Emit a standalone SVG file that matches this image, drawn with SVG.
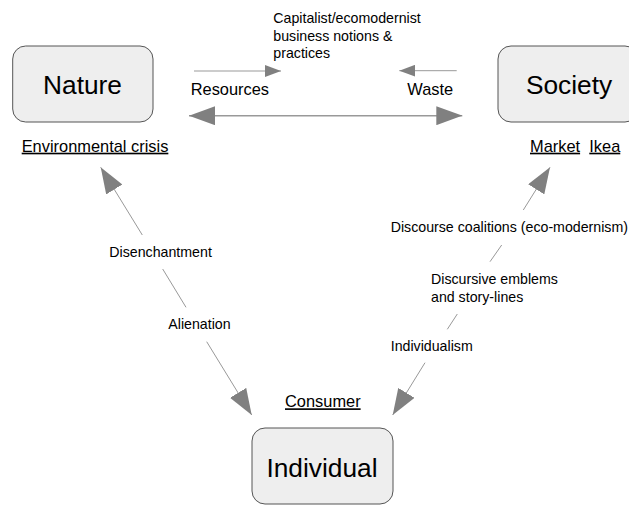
<svg xmlns="http://www.w3.org/2000/svg" width="629" height="505" viewBox="0 0 629 505">
<style>
.box{fill:#eeeeee;stroke:#555555;stroke-width:1}
.title{font-family:"Liberation Sans",Arial,sans-serif;font-size:26.3px;fill:#000;text-anchor:middle}
.lab{font-family:"Liberation Sans",Arial,sans-serif;font-size:16.4px;fill:#000}
.ul{text-decoration:underline}
.sm{font-family:"Liberation Sans",Arial,sans-serif;font-size:14.2px;fill:#000}
.ln{stroke:#999999;stroke-width:1;fill:none}
.lnb{stroke:#999999;stroke-width:1.6;fill:none}
</style>
<defs>
<marker id="big" viewBox="0 0 26 19" refX="26" refY="9.5" markerWidth="26" markerHeight="19" markerUnits="userSpaceOnUse" orient="auto-start-reverse">
<path d="M0,0 L26,9.5 L0,19 z" fill="#808080"/>
</marker>
<marker id="small" viewBox="0 0 16 12" refX="16" refY="6" markerWidth="16" markerHeight="12" markerUnits="userSpaceOnUse" orient="auto-start-reverse">
<path d="M0,0 L16,6 L0,12 z" fill="#808080"/>
</marker>
</defs>
<rect width="629" height="505" fill="#ffffff"/>
<g id="connectors">
<line class="ln" x1="194" y1="71" x2="281" y2="71" marker-end="url(#small)"/>
<line class="ln" x1="456.7" y1="70.7" x2="399.3" y2="70.7" marker-end="url(#small)"/>
<line class="lnb" x1="189" y1="115.7" x2="462.3" y2="115.7" marker-start="url(#big)" marker-end="url(#big)"/>
<line class="ln" x1="142.3" y1="235" x2="100.7" y2="167.3" marker-end="url(#big)"/>
<line class="ln" x1="162.7" y1="269" x2="186" y2="307.3"/>
<line class="ln" x1="206.7" y1="341.7" x2="251.7" y2="415" marker-end="url(#big)"/>
<line class="ln" x1="523.3" y1="210" x2="550" y2="167.3" marker-end="url(#big)"/>
<line class="ln" x1="501.7" y1="245" x2="490" y2="261.7"/>
<line class="ln" x1="457.3" y1="314" x2="447.3" y2="329.3"/>
<line class="ln" x1="425" y1="362.7" x2="392.7" y2="415" marker-end="url(#big)"/>
</g>
<g id="nature">
<rect class="box" x="12.7" y="46" width="140.3" height="76" rx="13"/>
<text class="title" x="82.5" y="94">Nature</text>
</g>
<g id="society">
<rect class="box" x="498" y="46" width="140" height="76" rx="13"/>
<text class="title" x="569" y="94">Society</text>
</g>
<g id="individual">
<rect class="box" x="252" y="428" width="141" height="76" rx="13"/>
<text class="title" x="322" y="477">Individual</text>
</g>
<g id="labels">
<text class="sm" x="273.3" y="23">Capitalist/ecomodernist</text>
<text class="sm" x="273.3" y="40.5">business notions &amp;</text>
<text class="sm" x="273.3" y="58">practices</text>
<text class="lab" x="190.7" y="95">Resources</text>
<text class="lab" x="407.3" y="95">Waste</text>
<text class="lab ul" x="21.7" y="151.7">Environmental crisis</text>
<text class="lab ul" x="530" y="151.7">Market</text>
<text class="lab ul" x="589.3" y="151.7">Ikea</text>
<text class="lab ul" x="285" y="407.3">Consumer</text>
<text class="sm" x="109.3" y="257.3">Disenchantment</text>
<text class="sm" x="168.3" y="329.3">Alienation</text>
<text class="sm" x="390.7" y="231.7">Discourse coalitions (eco-modernism)</text>
<text class="sm" x="431" y="284.3">Discursive emblems</text>
<text class="sm" x="431" y="301.7">and story-lines</text>
<text class="sm" x="390.7" y="350.7">Individualism</text>
</g>
</svg>
